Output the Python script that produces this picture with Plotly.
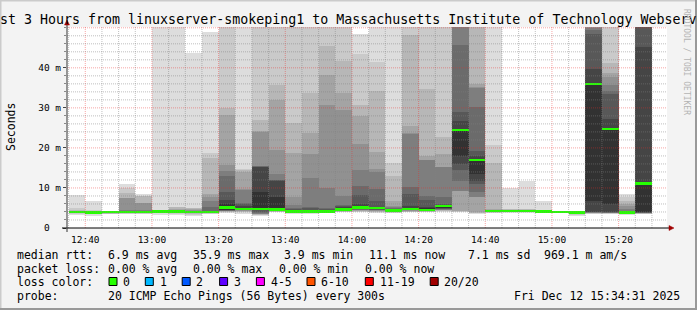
import plotly.graph_objects as go

DAY = "2025-12-12"

# start time of each 5-minute step (one smoke column per step)
bar_start = ["12:35", "12:40", "12:45", "12:50", "12:55", "13:00", "13:05", "13:10",
             "13:15", "13:20", "13:25", "13:30", "13:35", "13:40", "13:45", "13:50",
             "13:55", "14:00", "14:05", "14:10", "14:15", "14:20", "14:25", "14:30",
             "14:35", "14:40", "14:45", "14:50", "14:55", "15:00", "15:05", "15:10",
             "15:15", "15:20", "15:25"]

# 20 sorted ping RTTs (ms) per step
pings = [
    [3.3, 3.6, 3.7, 3.75, 3.8, 3.8, 3.85, 3.85, 3.9, 3.9, 3.9, 3.95, 4.0, 4.0, 4.1, 4.2, 4.3, 4.5, 5.0, 8.25],
    [3.1, 3.4, 3.5, 3.6, 3.65, 3.7, 3.7, 3.72, 3.75, 3.8, 3.85, 3.85, 3.9, 3.9, 3.95, 4.0, 4.1, 4.3, 4.5, 6.75],
    [3.6, 3.65, 3.7, 3.75, 3.8, 3.8, 3.82, 3.85, 3.87, 3.9, 3.9, 3.92, 3.95, 4.0, 4.0, 4.05, 4.1, 4.15, 4.2, 4.3],
    [3.5, 3.6, 3.7, 3.75, 3.8, 3.85, 3.85, 3.9, 3.9, 3.9, 3.95, 4.0, 4.1, 4.2, 4.4, 7.5, 7.5, 8.8, 10.0, 11.0],
    [3.5, 3.6, 3.7, 3.75, 3.8, 3.85, 3.85, 3.9, 3.9, 3.9, 3.95, 4.0, 4.1, 4.2, 4.4, 6.2, 6.3, 7.9, 8.0, 8.5],
    [3.3, 3.7, 3.8, 3.85, 3.9, 3.95, 4.0, 4.0, 4.05, 4.1, 4.1, 4.15, 4.2, 4.25, 4.3, 4.35, 4.4, 4.45, 4.5, 55],
    [3.3, 3.6, 3.8, 3.9, 3.95, 4.0, 4.0, 4.05, 4.1, 4.1, 4.15, 4.2, 4.3, 4.4, 4.5, 4.6, 4.8, 5.2, 5.3, 56],
    [3.1, 3.3, 3.5, 3.7, 3.75, 3.8, 3.85, 3.9, 3.9, 3.9, 3.95, 4.0, 4.1, 4.2, 4.3, 4.5, 4.7, 4.9, 5.0, 43.8],
    [3.4, 3.6, 3.8, 3.85, 3.9, 3.9, 3.95, 4.0, 4.0, 4.0, 4.05, 4.1, 4.2, 5.3, 6.7, 7.8, 8.6, 17.5, 18.7, 49.0],
    [3.8, 4.0, 4.1, 4.2, 4.25, 4.3, 4.35, 4.4, 4.45, 4.5, 6.0, 7.0, 9.0, 12.9, 14.2, 15.8, 28.2, 30.0, 55, 60],
    [3.6, 3.9, 4.1, 4.2, 4.3, 4.4, 4.45, 4.5, 4.6, 4.65, 5.0, 5.5, 6.0, 6.2, 9.5, 9.8, 13.9, 14.5, 14.8, 55],
    [3.1, 3.2, 3.3, 3.4, 3.5, 3.6, 3.7, 4.0, 4.4, 4.7, 8.9, 15.3, 15.35, 15.4, 15.45, 24.1, 24.2, 27.0, 55, 60],
    [3.9, 4.0, 4.1, 4.2, 4.25, 4.3, 4.35, 4.4, 4.45, 4.5, 7.7, 11.8, 11.9, 12.0, 13.5, 19.5, 32.0, 35.6, 55, 60],
    [3.5, 3.7, 3.8, 3.85, 3.9, 3.95, 4.0, 4.05, 4.1, 4.15, 4.3, 4.5, 4.8, 5.0, 5.8, 7.8, 18.7, 26.2, 55, 60],
    [3.5, 3.7, 3.8, 3.85, 3.9, 3.95, 4.0, 4.05, 4.1, 4.2, 4.3, 4.6, 5.0, 5.3, 12.5, 18.5, 23.8, 33.75, 55, 60],
    [3.7, 3.8, 3.85, 3.9, 3.95, 4.0, 4.05, 4.1, 4.15, 4.2, 4.4, 4.6, 4.8, 5.0, 10.0, 30.75, 38.25, 45.5, 55, 60],
    [3.9, 4.0, 4.1, 4.2, 4.25, 4.3, 4.35, 4.4, 4.45, 4.5, 4.8, 5.2, 5.5, 5.8, 8.1, 29.5, 33.75, 41.6, 55, 60],
    [3.9, 4.1, 4.2, 4.3, 4.4, 4.5, 4.6, 4.7, 4.8, 4.9, 5.4, 6.0, 8.3, 10.4, 14.5, 21.0, 28.0, 30.75, 43.5, 48.5],
    [3.7, 3.9, 4.1, 4.2, 4.3, 4.4, 4.5, 4.6, 4.7, 4.8, 5.1, 5.3, 6.8, 9.75, 13.9, 14.75, 18.9, 34.3, 41.4, 55],
    [3.7, 3.8, 3.9, 4.0, 4.05, 4.1, 4.15, 4.2, 4.3, 4.35, 4.45, 4.6, 4.8, 5.0, 5.3, 5.6, 6.8, 13.1, 16.2, 55],
    [3.9, 4.0, 4.1, 4.2, 4.3, 4.4, 4.5, 4.55, 4.6, 4.65, 5.0, 5.6, 8.5, 10.3, 23.6, 23.7, 25.5, 48.3, 55, 60],
    [3.9, 4.0, 4.1, 4.2, 4.25, 4.3, 4.35, 4.4, 4.45, 4.5, 4.9, 5.2, 7.0, 8.1, 16.9, 17.0, 18.1, 34.75, 55, 60],
    [4.0, 4.2, 4.3, 4.4, 4.5, 4.6, 4.7, 4.8, 5.0, 5.2, 5.6, 5.8, 6.0, 7.7, 15.2, 15.3, 18.5, 22.8, 55, 60],
    [3.9, 4.1, 4.2, 4.3, 9.25, 9.3, 11.8, 14.5, 16.0, 18.1, 24.75, 26.8, 28.9, 45.8, 55, 56, 57, 58, 59, 60],
    [3.5, 3.7, 3.8, 3.9, 7.65, 7.7, 8.9, 11.0, 11.8, 13.5, 17.25, 18.1, 19.3, 30.2, 35.0, 35.3, 36.0, 55, 58, 60],
    [3.7, 3.8, 3.9, 4.0, 4.05, 4.1, 4.15, 4.2, 4.22, 4.25, 4.3, 4.4, 4.45, 4.5, 4.55, 4.6, 4.75, 16.2, 20.8, 55],
    [3.8, 3.9, 3.95, 4.0, 4.05, 4.1, 4.15, 4.2, 4.22, 4.25, 4.3, 4.35, 4.4, 4.45, 4.5, 4.55, 4.6, 4.7, 4.8, 10.1],
    [3.8, 3.9, 3.95, 4.0, 4.05, 4.1, 4.12, 4.15, 4.18, 4.2, 4.3, 4.35, 4.4, 4.45, 4.5, 4.55, 4.6, 4.7, 4.75, 11.8],
    [3.8, 3.85, 3.9, 3.95, 3.98, 4.0, 4.02, 4.05, 4.08, 4.1, 4.15, 4.2, 4.25, 4.3, 4.35, 4.4, 4.45, 4.5, 4.6, 6.8],
    [3.7, 3.75, 3.78, 3.8, 3.82, 3.84, 3.86, 3.88, 3.89, 3.9, 3.92, 3.95, 3.98, 4.0, 4.02, 4.05, 4.08, 4.1, 4.12, 4.2],
    [3.1, 3.3, 3.5, 3.6, 3.7, 3.75, 3.78, 3.8, 3.82, 3.85, 3.87, 3.9, 3.92, 3.95, 3.98, 4.0, 4.02, 4.05, 4.1, 4.2],
    [3.5, 3.6, 3.7, 3.75, 3.8, 3.85, 3.88, 3.9, 3.92, 6.8, 36.2, 39.75, 48.5, 49.5, 50.0, 50.1, 55, 58, 60, 62],
    [3.5, 3.6, 3.7, 3.75, 3.8, 3.85, 3.87, 3.88, 3.9, 6.0, 24.9, 27.25, 33.5, 34.3, 35.6, 37.7, 38.7, 41.2, 55, 60],
    [3.25, 3.4, 3.5, 3.55, 3.6, 3.65, 3.7, 3.72, 3.74, 3.75, 3.8, 3.9, 4.0, 4.2, 4.75, 5.4, 6.0, 6.8, 7.8, 8.5],
    [3.4, 3.5, 3.6, 3.65, 3.7, 3.75, 3.8, 3.85, 3.88, 3.9, 11.2, 45.2, 51, 52, 53, 54, 55, 56, 58, 60],
]

# median RTT (ms) per step
median_rtt = [3.9, 3.85, 3.9, 3.9, 3.9, 4.1, 4.1, 3.9, 3.95, 5.1, 4.7, 4.75, 4.6, 4.1, 4.1,
              4.1, 4.6, 5.1, 4.9, 4.35, 4.7, 4.5, 5.4, 24.5, 17.0, 4.25, 4.25, 4.2, 4.1,
              3.9, 3.85, 35.9, 24.75, 3.85, 11.1]

y_tick_vals = [0, 10, 20, 30, 40]
y_tick_text = ["0\u00a0\u00a0", "10 m", "20 m", "30 m", "40 m"]

title_text = "Last 3 Hours from linuxserver-smokeping1 to Massachusetts Institute of Technology Webserver"
stats_rtt = ["median rtt:", "6.9 ms avg", "35.9 ms max", "3.9 ms min", "11.1 ms now", "7.1 ms sd", "969.1 m am/s"]
stats_loss = ["packet loss:", "0.00 % avg", "0.00 % max", "0.00 % min", "0.00 % now"]
loss_labels = ["0", "1", "2", "3", "4-5", "6-10", "11-19", "20/20"]
loss_colors = ["#26ff00", "#00b8ff", "#0059ff", "#5e00ff", "#ff00ff", "#ff5500", "#ff0000", "#a10000"]
probe_text = ["probe:", "20 ICMP Echo Pings (56 Bytes) every 300s"]
date_text = "Fri Dec 12 15:34:31 2025"

# smoke shades: outermost pair lightest, innermost darkest
smoke_colors = ["#dddddd", "#cacaca", "#b7b7b7", "#a4a4a4", "#919191",
                "#7e7e7e", "#6b6b6b", "#585858", "#454545", "#323232"]

# ---------------------------------------------------------------- layout geometry
W, H = 697, 310
PL, PR, PT, PB = 67, 667, 27, 228          # plot area in page pixels
FONT = "DejaVu Sans Mono"


def X(px):
    return (px - PL) / (PR - PL)


def Y(py):
    return (PB - py) / (PB - PT)


xs = [f"{DAY} {t}:00" for t in bar_start]

fig = go.Figure()
for k in range(1, 11):
    lo = [p[k - 1] for p in pings]
    hi = [p[20 - k] for p in pings]
    fig.add_trace(go.Bar(
        x=xs, base=lo, y=[h - l for h, l in zip(hi, lo)],
        width=300000, offset=0, marker=dict(color=smoke_colors[k - 1], line=dict(width=0)),
        hoverinfo="skip", showlegend=False))

MED_W = 0.55
fig.add_trace(go.Bar(
    x=xs, base=[m - MED_W / 2 for m in median_rtt], y=[MED_W] * len(median_rtt),
    width=300000, offset=0, marker=dict(color=loss_colors[0], line=dict(width=0)),
    hoverinfo="skip", showlegend=False))

shapes = []
# grid (drawn on top, like rrdtool)
minor_col = "rgba(130,130,130,0.5)"
major_col = "rgba(235,40,40,0.42)"
for i in range(len(bar_start) + 1):
    hh, mm = divmod(12 * 60 + 35 + 5 * i, 60)
    t = f"{DAY} {hh:02d}:{mm:02d}:00"
    col = major_col if mm % 20 == 0 else minor_col
    shapes.append(dict(type="line", xref="x", yref="paper", x0=t, x1=t, y0=0, y1=1,
                       line=dict(color=col, width=1, dash="1px,1px"), layer="above"))
for v in range(2, 51, 2):
    col = major_col if v % 10 == 0 else minor_col
    shapes.append(dict(type="line", xref="paper", yref="y", x0=0, x1=1, y0=v, y1=v,
                       line=dict(color=col, width=1, dash="1px,1px"), layer="above"))

# axes with arrows
shapes.append(dict(type="line", xref="paper", yref="paper", x0=X(62), x1=X(670), y0=Y(228), y1=Y(228),
                   line=dict(color="black", width=1), layer="above"))
shapes.append(dict(type="line", xref="paper", yref="paper", x0=X(67), x1=X(67), y0=Y(232), y1=Y(23),
                   line=dict(color="#333333", width=1), layer="above"))
arrow_col = "#a00000"
shapes.append(dict(type="path", xref="paper", yref="paper",
                   path=f"M {X(669)},{Y(225.5)} L {X(674)},{Y(228)} L {X(669)},{Y(230.5)} Z",
                   fillcolor=arrow_col, line=dict(color=arrow_col, width=0.5), layer="above"))
shapes.append(dict(type="path", xref="paper", yref="paper",
                   path=f"M {X(64.5)},{Y(25)} L {X(67)},{Y(20)} L {X(69.5)},{Y(25)} Z",
                   fillcolor=arrow_col, line=dict(color=arrow_col, width=0.5), layer="above"))

# page border (3D frame)
shapes.append(dict(type="line", xref="paper", yref="paper", x0=X(0.5), x1=X(0.5), y0=Y(0), y1=Y(310),
                   line=dict(color="#cbcbcb", width=2), layer="above"))
shapes.append(dict(type="line", xref="paper", yref="paper", x0=X(0), x1=X(697), y0=Y(0.5), y1=Y(0.5),
                   line=dict(color="#cbcbcb", width=2), layer="above"))
shapes.append(dict(type="line", xref="paper", yref="paper", x0=X(696), x1=X(696), y0=Y(0), y1=Y(310),
                   line=dict(color="#999999", width=2), layer="above"))
shapes.append(dict(type="line", xref="paper", yref="paper", x0=X(0), x1=X(697), y0=Y(309), y1=Y(309),
                   line=dict(color="#999999", width=2), layer="above"))

# loss-colour legend boxes
box_x = [109, 145.3, 182.2, 219.6, 256.4, 307, 365.3, 430.2]
for bx, c in zip(box_x, loss_colors):
    shapes.append(dict(type="rect", xref="paper", yref="paper", x0=X(bx), x1=X(bx + 8),
                       y0=Y(285.5), y1=Y(277.5), fillcolor=c, line=dict(color="black", width=1),
                       layer="above"))

ann = []


def txt(px, py, s, size=11.5, xanchor="left", color="black", angle=0):
    ann.append(dict(text=s, x=X(px), y=Y(py), xref="paper", yref="paper", showarrow=False,
                    xanchor=xanchor, yanchor="middle", textangle=angle, borderpad=0,
                    font=dict(family=FONT, size=size, color=color)))


txt(348.5, 19.5, title_text, size=13.3, xanchor="center")
txt(687, 62, "RRDTOOL / TOBI OETIKER", size=8, xanchor="center", color="#b4b4b4", angle=90)
txt(10.5, 127.5, "Seconds", size=11.5, xanchor="center", angle=-90)

row1_x = [16.4, 107.6, 192.9, 283.6, 369.3, 468, 544]
for px, s in zip(row1_x, stats_rtt):
    txt(px - 0.8, 255, s)
row2_x = [16.4, 107.6, 192.9, 279.1, 364.9]
for px, s in zip(row2_x, stats_loss):
    txt(px - 0.8, 268.5, s)
txt(16.4 - 0.8, 282, "loss color:")
for bx, s in zip(box_x, loss_labels):
    txt(bx + 14 - 0.8, 282, s)
row4_x = [16.4, 107.6]
for px, s in zip(row4_x, probe_text):
    txt(px - 0.8, 296, s)
txt(680.5, 296, date_text, xanchor="right")

fig.update_layout(
    width=W, height=H,
    margin=dict(l=PL, r=W - PR, t=PT, b=H - PB, pad=0),
    paper_bgcolor="#f3f3f3", plot_bgcolor="white",
    barmode="overlay", bargap=0,
    shapes=shapes, annotations=ann,
    font=dict(family=FONT, color="black"),
    xaxis=dict(type="date", range=[f"{DAY} 12:34:31", f"{DAY} 15:34:31"],
               tickformat="%H:%M", dtick=1200000, tick0=f"{DAY} 12:40:00",
               ticks="outside", ticklen=3, tickcolor="rgba(0,0,0,0)",
               tickfont=dict(family=FONT, size=9.5, color="black"),
               showgrid=False, zeroline=False, showline=False, fixedrange=True),
    yaxis=dict(range=[0, 50.2], tickmode="array", tickvals=y_tick_vals, ticktext=y_tick_text,
               ticks="outside", ticklen=3, tickcolor="#444444",
               minor=dict(dtick=2, ticklen=2, tickcolor="#888888", ticks="outside", showgrid=False),
               tickfont=dict(family=FONT, size=9.5, color="black"),
               showgrid=False, zeroline=False, showline=False, fixedrange=True),
)

fig.write_html("out.html")
